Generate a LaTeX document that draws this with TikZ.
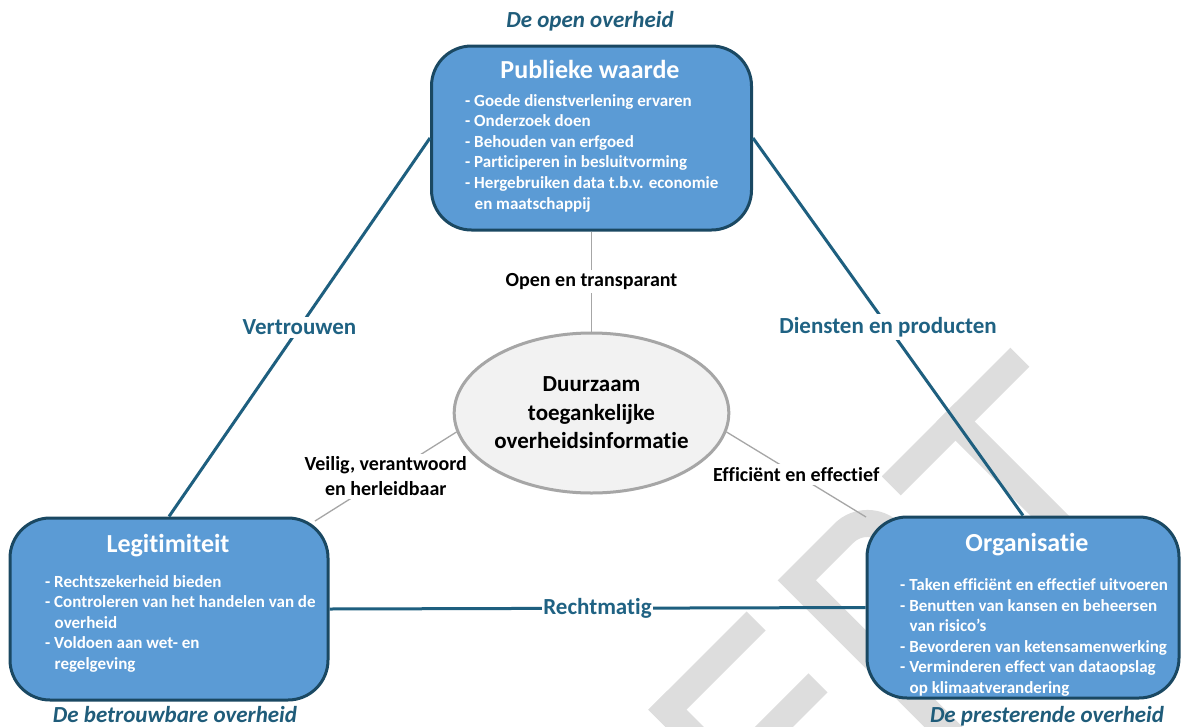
\documentclass[tikz,border=0pt]{standalone}
\usepackage{fontspec}
\setmainfont{Carlito}[Ligatures={NoCommon}, RawFeature={-liga;-clig;-dlig}]
\usetikzlibrary{shapes.geometric}
\definecolor{boxfill}{RGB}{91,155,213}
\definecolor{boxline}{RGB}{26,72,98}
\definecolor{conn}{RGB}{30,95,127}
\definecolor{lbltxt}{RGB}{31,98,131}
\definecolor{ttl}{RGB}{31,92,122}
\definecolor{ellfill}{RGB}{242,242,242}
\definecolor{ellline}{RGB}{166,166,166}
\definecolor{thinline}{RGB}{166,166,166}
\definecolor{wmark}{RGB}{221,221,221}
\begin{document}
\begin{tikzpicture}[x=1pt,y=-1pt,
  mainbox/.style={draw=boxline, line width=3pt, fill=boxfill, rounded corners=40pt, inner sep=0pt},
  boxtitle/.style={text=white, font=\fontsize{26}{30}\selectfont\bfseries, inner sep=0pt, anchor=base},
  boxlist/.style={text=white, font=\fontsize{17}{20.6}\selectfont\bfseries, inner sep=0pt, anchor=base west},
  cornerlbl/.style={text=ttl, font=\fontsize{23}{27}\selectfont\bfseries\itshape, inner sep=0pt, anchor=base},
  blueline/.style={draw=conn, line width=3pt},
  grayline/.style={draw=thinline, line width=1.3pt},
  bluelbl/.style={fill=white, text=lbltxt, font=\fontsize{23}{27}\selectfont\bfseries, inner xsep=1pt, inner ysep=3pt},
  graylbl/.style={fill=white, text=black, font=\fontsize{20}{25}\selectfont\bfseries, inner sep=3pt, align=center},
  centre/.style={ellipse, draw=ellline, line width=3pt, fill=ellfill, minimum width=266pt, minimum height=160pt, inner sep=0pt, align=center, font=\fontsize{23}{28.5}\selectfont\bfseries},
  wm/.style={fill=wmark},
  wmline/.style={draw=wmark, line width=27pt, line join=miter, line cap=butt}
]
\fill[white] (0,0) rectangle (1181,726);
\useasboundingbox (0,0) rectangle (1181,726);

% watermark (partly visible letters)
\begin{scope}
\clip (0,0) rectangle (1181,726);
\begin{scope}[shift={(946,412)}, rotate=45, x=1pt, y=1pt]
  % E
  \fill[wm] (-421,0) rectangle (-394,-256);
  \fill[wm] (-421,0) rectangle (-282,-27);
  \fill[wm] (-421,-87.5) rectangle (-282,-114.5);
  \fill[wm] (-421,-229) rectangle (-282,-256);
  % P
  \draw[wmline] (-224.5,-256) -- (-224.5,-13.5) -- (-158,-13.5)
     arc[start angle=90, end angle=0, radius=33.5] -- (-124.5,-90)
     arc[start angle=0, end angle=-90, radius=33.5] -- (-224.5,-123.5);
  % T
  \fill[wm] (-91,0) rectangle (91,-27);
  \fill[wm] (-13.5,0) rectangle (13.5,-256);
\end{scope}
\end{scope}

% boxes
\node[mainbox, minimum width=320pt, minimum height=184pt] (pw) at (591.5,138) {};
\node[mainbox, minimum width=318pt, minimum height=182pt] (lg) at (169,609) {};
\node[mainbox, minimum width=312pt, minimum height=181pt] (org) at (1023,607.5) {};
\node[centre] (ell) at (591.5,413) {Duurzaam\\toegankelijke\\overheidsinformatie};

% titles in boxes
\node[boxtitle] (pwt) at (590,78) {Publieke waarde};
\node[boxtitle] (lgt) at (168,552) {Legitimiteit};
\node[boxtitle] (orgt) at (1027,551) {Organisatie};

% lists
\node[boxlist] (pwl) at (465,106) {\parbox[t]{280pt}{\raggedright
- Goede dienstverlening ervaren\\
- Onderzoek doen\\
- Behouden van erfgoed\\
- Participeren in besluitvorming\\
- Hergebruiken data t.b.v. economie\\
\hspace*{9.5pt}en maatschappij}};
\node[boxlist] (lgl) at (45,587) {\parbox[t]{280pt}{\raggedright
- Rechtszekerheid bieden\\
- Controleren van het handelen van de\\
\hspace*{9.5pt}overheid\\
- Voldoen aan wet- en\\
\hspace*{9.5pt}regelgeving}};
\node[boxlist] (orgl) at (900,590.5) {\parbox[t]{280pt}{\raggedright
- Taken efficiënt en effectief uitvoeren\\
- Benutten van kansen en beheersen\\
\hspace*{9.5pt}van risico’s\\
- Bevorderen van ketensamenwerking\\
- Verminderen effect van dataopslag\\
\hspace*{9.5pt}op klimaatverandering}};

% corner captions
\node[cornerlbl] (c1) at (590,27) {De open overheid};
\node[cornerlbl] (c2) at (175,722) {De betrouwbare overheid};
\node[cornerlbl] (c3) at (1047,722) {De presterende overheid};

% gray connectors
\coordinate (gL) at (315,521);
\coordinate (gR) at (866,517);
\draw[grayline] (pw.south) -- node[graylbl] (g1) {Open en transparant} (ell.north);
\draw[grayline] (ell.188) -- node[graylbl] (g2) {Veilig, verantwoord\\en herleidbaar} (gL);
\draw[grayline] (ell.352) -- node[graylbl] (g3) {Efficiënt en effectief} (gR);

% blue connectors
\draw[blueline] (pw.west) -- node[bluelbl] (b1) {Vertrouwen} (lg.north);
\draw[blueline] (pw.east) -- node[bluelbl] (b2) {Diensten en producten} (org.north);
\draw[blueline] (lg.east) -- node[bluelbl] (b3) {Rechtmatig} (org.west);
\end{tikzpicture}
\end{document}
